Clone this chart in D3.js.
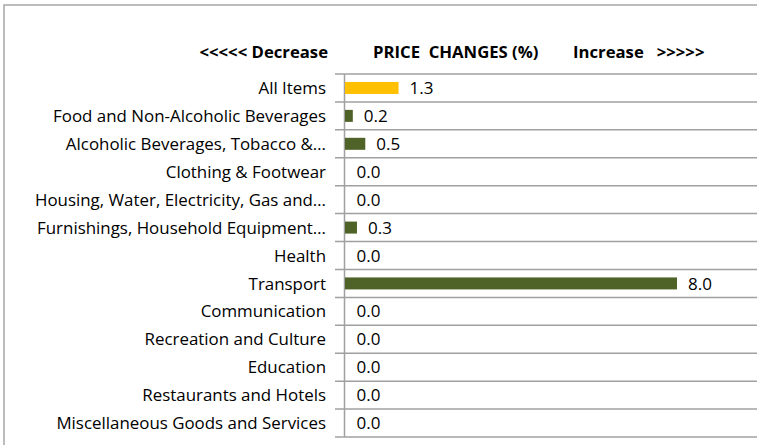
<!DOCTYPE html>
<html><head><meta charset="utf-8">
<script src="https://cdn.jsdelivr.net/npm/d3@7"></script>
<style>body{margin:0;background:#fff;} svg{display:block;}</style>
</head><body>
<svg id="chart" width="757" height="445"></svg>
<script>
const categories = ["All Items","Food and Non-Alcoholic Beverages","Alcoholic Beverages, Tobacco &\u2026","Clothing & Footwear","Housing, Water, Electricity, Gas and\u2026","Furnishings, Household Equipment\u2026","Health","Transport","Communication","Recreation and Culture","Education","Restaurants and Hotels","Miscellaneous Goods and Services"];
const values = [1.3,0.2,0.5,0.0,0.0,0.3,0.0,8.0,0.0,0.0,0.0,0.0,0.0];
const headerTexts = ["<<<<< Decrease","PRICE  CHANGES (%)","Increase   >>>>>"];

const svg = d3.select("#chart");
const font = "'Open Sans', sans-serif";

// frame
svg.append("rect").attr("x",4).attr("y",5).attr("width",770).attr("height",460)
  .attr("fill","#fff").attr("stroke","#a6a6a6").attr("stroke-width",1.5);

const x = d3.scaleLinear().domain([0,8]).range([344.5,677]);
const y = d3.scaleBand().domain(categories).range([74,437]);

// gridlines (category boundaries)
const bounds = categories.map(c=>y(c)).concat([y.range()[1]]);
svg.append("g").selectAll("line").data(bounds).join("line")
  .attr("x1",335).attr("x2",757).attr("y1",d=>d).attr("y2",d=>d)
  .attr("stroke","#a0a0a0").attr("stroke-width",1.5);

// axis
svg.append("line").attr("x1",x(0)).attr("x2",x(0)).attr("y1",74).attr("y2",437)
  .attr("stroke","#a0a0a0").attr("stroke-width",1.5);

// bars
const bh = 12;
svg.append("g").selectAll("rect").data(values).join("rect")
  .attr("x",x(0)+0.5)
  .attr("y",(d,i)=>y(categories[i])+y.bandwidth()/2-bh/2)
  .attr("width",d=>Math.max(0,x(d)-x(0)-0.5))
  .attr("height",bh)
  .attr("fill",(d,i)=>i===0?"#FFC000":"#4F6228");

// value labels
svg.append("g").selectAll("text").data(values).join("text")
  .attr("x",d=>x(d)+ (d>0?11:12))
  .attr("y",(d,i)=>y(categories[i])+y.bandwidth()/2)
  .attr("dy","0.36em")
  .attr("font-family",font).attr("font-size",17).attr("fill","#000")
  .text(d=>d.toFixed(1));

// category labels
svg.append("g").selectAll("text").data(categories).join("text")
  .attr("x",326)
  .attr("y",d=>y(d)+y.bandwidth()/2)
  .attr("dy","0.36em").attr("text-anchor","end")
  .attr("font-family",font).attr("font-size",16.9).attr("fill","#000")
  .text(d=>d);

// header
const hx = [[328,"end"],[373,"start"],[573,"start"]];
svg.append("g").selectAll("text").data(headerTexts).join("text")
  .attr("x",(d,i)=>hx[i][0]).attr("text-anchor",(d,i)=>hx[i][1])
  .attr("y",52).attr("dy","0.36em")
  .attr("font-family",font).attr("font-size",16.7).attr("font-weight","bold")
  .attr("fill","#000").style("white-space","pre").attr("xml:space","preserve")
  .text(d=>d);
</script>
</body></html>
